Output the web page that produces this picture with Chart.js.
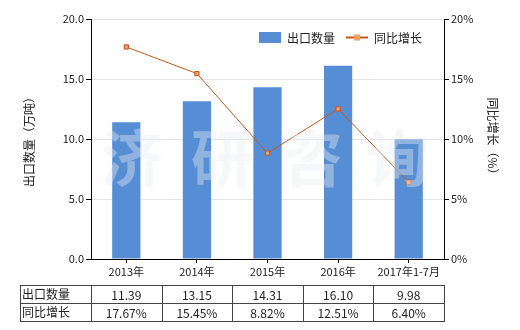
<!DOCTYPE html>
<html>
<head>
<meta charset="utf-8">
<script src="https://cdn.jsdelivr.net/npm/chart.js@4"></script>
<style>
  html, body { margin: 0; padding: 0; background: #fff; }
  #wrap { width: 520px; height: 330px; }
</style>
</head>
<body>
<div id="wrap"><canvas id="c" width="520" height="330"></canvas></div>
<script>
// 年份 + 两组数据
const years = ["2013年", "2014年", "2015年", "2016年", "2017年1-7月"];
const exportQty = [11.39, 13.15, 14.31, 16.10, 9.98];
const growth = [17.67, 15.45, 8.82, 12.51, 6.40];
const qtyLabels = ["11.39", "13.15", "14.31", "16.10", "9.98"];
const growthLabels = ["17.67%", "15.45%", "8.82%", "12.51%", "6.40%"];

const barColor = '#558ed5';
const lineColor = '#c5561a';
const font = '"Noto Sans CJK SC", "DejaVu Sans", sans-serif';

// 水印、图例、底部表格
const extras = {
    id: 'extras',
    afterDatasetsDraw(chart) {
        const c = chart.ctx;
        c.save();
        c.font = 'bold 62px ' + font;
        c.fillStyle = 'rgba(232,236,240,0.4)';
        c.textAlign = 'center';
        c.textBaseline = 'middle';
        const marks = ['济', '研', '咨', '询'];
        const xs = [132, 222, 312, 398];
        marks.forEach((m, i) => c.fillText(m, xs[i], 158));
        c.restore();
    },
    afterDraw(chart) {
        const c = chart.ctx;
        const x = chart.scales.x;
        c.save();
        // legend
        c.fillStyle = barColor;
        c.fillRect(259, 32, 22, 11);
        c.fillStyle = '#222';
        c.font = '12px ' + font;
        c.textBaseline = 'middle';
        c.fillText('出口数量', 287, 38);
        c.strokeStyle = lineColor;
        c.lineWidth = 2;
        c.beginPath(); c.moveTo(346, 37.5); c.lineTo(368, 37.5); c.stroke();
        c.fillStyle = '#f0a060';
        c.fillRect(354, 34.5, 6, 6);
        c.fillStyle = '#222';
        c.fillText('同比增长', 374, 38);

        // table
        const half = (x.getPixelForValue(1) - x.getPixelForValue(0)) / 2;
        const left = 20, right = x.right;
        const rows = [285, 303, 321];
        c.strokeStyle = '#444';
        c.lineWidth = 1;
        c.beginPath();
        rows.forEach(r => { c.moveTo(left, r + 0.5); c.lineTo(right, r + 0.5); });
        c.moveTo(left + 0.5, rows[0]); c.lineTo(left + 0.5, rows[2] + 1);
        for (let i = 0; i < years.length; i++) {
            const b = Math.round(x.getPixelForValue(i) - half) + 0.5;
            c.moveTo(b, rows[0]); c.lineTo(b, rows[2] + 1);
        }
        c.moveTo(Math.round(right) + 0.5, rows[0]); c.lineTo(Math.round(right) + 0.5, rows[2] + 1);
        c.stroke();

        c.fillStyle = '#222';
        c.font = '12px ' + font;
        c.textBaseline = 'middle';
        c.textAlign = 'left';
        c.fillText('出口数量', 22, 294);
        c.fillText('同比增长', 22, 312);
        c.textAlign = 'center';
        for (let i = 0; i < years.length; i++) {
            const px = x.getPixelForValue(i);
            c.fillText(qtyLabels[i], px, 295);
            c.fillText(growthLabels[i], px, 313);
        }
        c.restore();
    }
};

const ctx = document.getElementById('c').getContext('2d');
const chart = new Chart(ctx, {
    type: 'bar',
    data: {
        labels: years,
        datasets: [
            {
                type: 'line',
                label: '同比增长',
                data: growth,
                yAxisID: 'y1',
                borderColor: lineColor,
                borderWidth: 1,
                backgroundColor: '#f0a060',
                pointStyle: 'rect',
                pointRadius: 3,
                pointBorderColor: lineColor,
                pointBorderWidth: 1,
                tension: 0
            },
            {
                label: '出口数量',
                data: exportQty,
                yAxisID: 'y',
                backgroundColor: barColor,
                barPercentage: 0.4,
                categoryPercentage: 1
            }
        ]
    },
    options: {
        responsive: false,
        animation: false,
        layout: { padding: { top: 19, left: 0, right: 0, bottom: 0 } },
        plugins: { legend: { display: false }, tooltip: { enabled: false } },
        scales: {
            x: {
                grid: { display: true, drawOnChartArea: false, offset: false, tickLength: 4, tickColor: '#000' },
                border: { color: '#000' },
                ticks: { color: '#222', font: { size: 11, family: font }, padding: 2, maxRotation: 0 },
                afterFit(s) { s.height = 71; }
            },
            y: {
                position: 'left',
                min: 0, max: 20,
                ticks: { stepSize: 5, color: '#222', font: { size: 11, family: font }, padding: 2,
                    callback: v => v.toFixed(1) },
                grid: { color: '#e4e4e4', tickLength: 5, tickColor: '#000' },
                border: { color: '#000' },
                title: { display: true, text: '出口数量（万吨）', color: '#222', font: { size: 12, family: font }, padding: { top: 22, bottom: 0 } },
                afterFit(s) { s.width = 91; }
            },
            y1: {
                position: 'right',
                min: 0, max: 20,
                ticks: { stepSize: 5, color: '#222', font: { size: 11, family: font }, padding: 2,
                    callback: v => v + '%' },
                grid: { drawOnChartArea: false, tickLength: 5, tickColor: '#000' },
                border: { color: '#000' },
                title: { display: true, text: '同比增长（%）', color: '#222', font: { size: 12, family: font }, padding: { top: 20, bottom: 0 } },
                afterFit(s) { s.width = 76; }
            }
        }
    },
    plugins: [extras]
});
</script>
</body>
</html>
